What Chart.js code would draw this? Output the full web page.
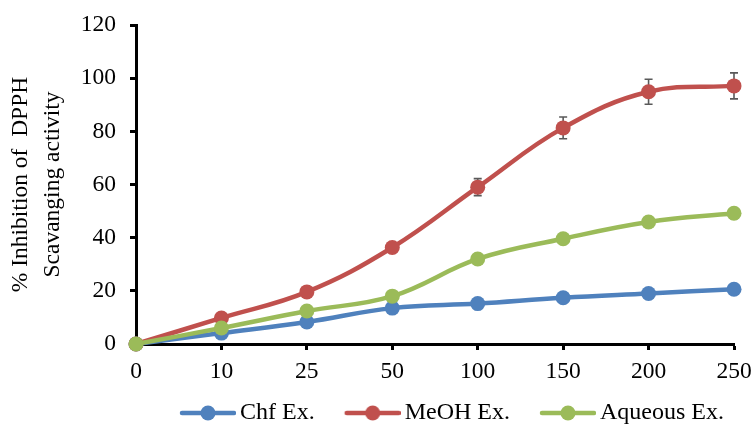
<!DOCTYPE html>
<html>
<head>
<meta charset="utf-8">
<script src="https://cdn.jsdelivr.net/npm/chart.js@4.4.1/dist/chart.umd.min.js"></script>
<style>
  html, body { margin: 0; padding: 0; background: #fff; }
  #wrap { width: 754px; height: 426px; position: relative; }
</style>
</head>
<body>
<div id="wrap"><canvas id="c" width="754" height="426"></canvas></div>
<script>
// ---- data ----
const categories = ['0', '10', '25', '50', '100', '150', '200', '250'];
const chfValues = [0, 4.1, 8.3, 13.5, 15.2, 17.4, 19.0, 20.6];
const meohValues = [0, 9.8, 19.6, 36.3, 59.0, 81.3, 94.9, 97.1];
const aqueousValues = [0, 6.0, 12.4, 18.0, 32.0, 39.6, 45.9, 49.2];
const chfErrors = [0, 0, 0, 0, 0, 0, 0, 0];
const meohErrors = [0, 0, 0, 1, 3.2, 4.1, 4.7, 4.9];
const aqueousErrors = [0, 0, 0, 0, 0, 0.8, 1.5, 2.0];
const seriesNames = ['Chf Ex.', 'MeOH Ex.', 'Aqueous Ex.'];
const yTickValues = [0, 20, 40, 60, 80, 100, 120];
const yTitleLines = ['% Inhibition of  DPPH', 'Scavanging activity'];

const colors = ['#4F81BD', '#C0504D', '#9BBB59'];
const FONT = '"Liberation Serif", "Times New Roman", serif';

function legendImage(color) {
  const c = document.createElement('canvas');
  c.width = 88; c.height = 20;
  const g = c.getContext('2d');
  g.strokeStyle = color; g.lineWidth = 4.5; g.lineCap = 'round';
  g.beginPath(); g.moveTo(34, 10); g.lineTo(86, 10); g.stroke();
  g.fillStyle = color;
  g.beginPath(); g.arc(60, 10, 7.5, 0, Math.PI * 2); g.fill();
  return c;
}
const legendImgs = colors.map(legendImage);

const errorBars = {
  id: 'errorBars',
  beforeDatasetsDraw(chart) {
    const ctx = chart.ctx;
    const y = chart.scales.y;
    chart.data.datasets.forEach((ds, i) => {
      const meta = chart.getDatasetMeta(i);
      const errs = ds.errors || [];
      ctx.save();
      ctx.strokeStyle = '#595959';
      ctx.lineWidth = 1.6;
      meta.data.forEach((pt, j) => {
        const e = errs[j];
        if (!e) return;
        const v = ds.data[j];
        const yt = y.getPixelForValue(v + e);
        const yb = y.getPixelForValue(v - e);
        const x = pt.x;
        ctx.beginPath();
        ctx.moveTo(x, yt); ctx.lineTo(x, yb);
        ctx.moveTo(x - 4, yt); ctx.lineTo(x + 4, yt);
        ctx.moveTo(x - 4, yb); ctx.lineTo(x + 4, yb);
        ctx.stroke();
      });
      ctx.restore();
    });
  }
};

const legendShift = {
  id: 'legendShift',
  afterLayout(chart) {
    const lg = chart.legend;
    if (!lg) return;
    const dx = 14, dy = 9;
    lg.left += dx; lg.right += dx; lg.top += dy; lg.bottom += dy;
  }
};

function makeDataset(label, data, errors, color, order) {
  return {
    label, data, errors,
    borderColor: color,
    backgroundColor: color,
    pointBackgroundColor: color,
    pointBorderColor: color,
    borderWidth: 4.5,
    pointRadius: 7.5,
    pointHoverRadius: 7.5,
    pointBorderWidth: 0,
    tension: 0.4,
    clip: false,
    order
  };
}

new Chart(document.getElementById('c'), {
  type: 'line',
  data: {
    labels: categories,
    datasets: [
      makeDataset(seriesNames[0], chfValues, chfErrors, colors[0], 2),
      makeDataset(seriesNames[1], meohValues, meohErrors, colors[1], 1),
      makeDataset(seriesNames[2], aqueousValues, aqueousErrors, colors[2], 0)
    ]
  },
  options: {
    responsive: false,
    animation: false,
    layout: { padding: { top: 25, right: 20, left: 0, bottom: 0 } },
    plugins: {
      tooltip: { enabled: false },
      legend: {
        position: 'bottom',
        align: 'start',
        fullSize: false,
        labels: {
          usePointStyle: true,
          pointStyleWidth: 72,
          padding: 6,
          color: '#000',
          font: { family: FONT, size: 24 },
          generateLabels(chart) {
            const items = Chart.defaults.plugins.legend.labels.generateLabels(chart);
            items.sort((a, b) => a.datasetIndex - b.datasetIndex);
            items.forEach(it => { it.pointStyle = legendImgs[it.datasetIndex]; });
            return items;
          }
        }
      }
    },
    scales: {
      x: {
        type: 'category',
        offset: false,
        grid: { display: true, drawOnChartArea: false, drawTicks: true, tickLength: 6, tickWidth: 3, tickColor: '#000', offset: false },
        border: { display: true, color: '#000', width: 3 },
        ticks: { color: '#000', font: { family: FONT, size: 23.5 }, padding: 8, maxRotation: 0, autoSkip: false },
        afterFit(s) { s.height = 42; s.paddingLeft = 0; s.paddingRight = 0; }
      },
      y: {
        min: 0, max: 120,
        afterBuildTicks(s) { s.ticks = yTickValues.map(v => ({ value: v })); },
        grid: { display: true, drawOnChartArea: false, drawTicks: true, tickLength: 6, tickWidth: 3, tickColor: '#000' },
        border: { display: true, color: '#000', width: 3 },
        ticks: { color: '#000', font: { family: FONT, size: 23.5 }, padding: 14 },
        title: {
          display: true,
          text: yTitleLines,
          color: '#000',
          font: { family: FONT, size: 23.5, lineHeight: 1.36 },
          padding: { top: 5, bottom: 0 }
        },
        afterFit(s) { s.width = 136; s.paddingTop = 0; s.paddingBottom = 0; }
      }
    }
  },
  plugins: [errorBars, legendShift]
});
</script>
</body>
</html>
